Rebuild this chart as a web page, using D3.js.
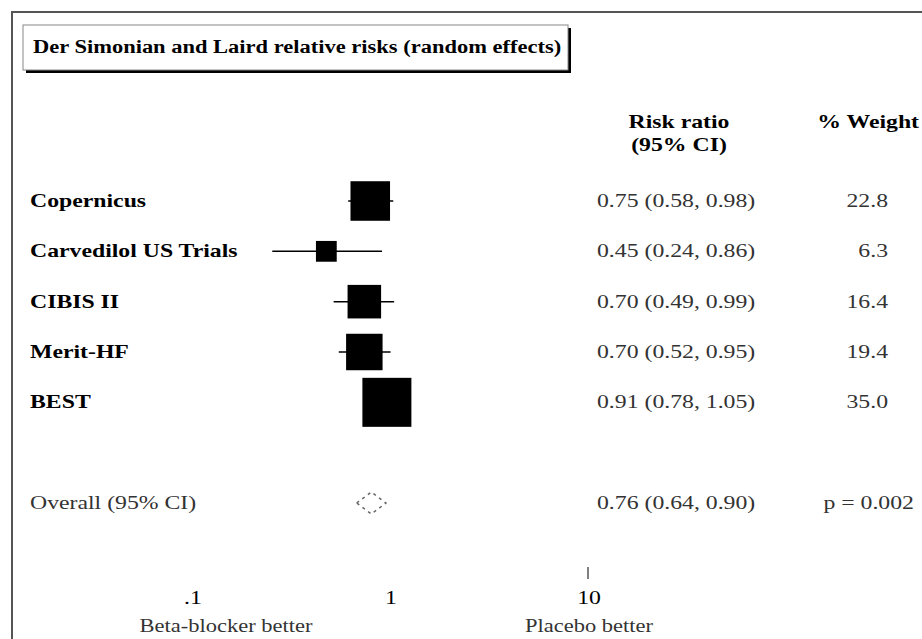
<!DOCTYPE html>
<html>
<head>
<meta charset="utf-8">
<script src="https://cdn.jsdelivr.net/npm/d3@7"></script>
<style>
  body { margin: 0; background: #fff; }
  svg text { font-family: "Liberation Serif", "Times New Roman", serif; fill: #000; }
</style>
</head>
<body>
<div id="chart"></div>
<script>
// study data
var studies = ["Copernicus", "Carvedilol US Trials", "CIBIS II", "Merit-HF", "BEST"]
var rr = [0.75, 0.45, 0.70, 0.70, 0.91]
var lower = [0.58, 0.24, 0.49, 0.52, 0.78]
var upper = [0.98, 0.86, 0.99, 0.95, 1.05]
var rrText = ["0.75 (0.58, 0.98)", "0.45 (0.24, 0.86)", "0.70 (0.49, 0.99)", "0.70 (0.52, 0.95)", "0.91 (0.78, 1.05)"]
var weights = [22.8, 6.3, 16.4, 19.4, 35.0]
var weightText = ["22.8", "6.3", "16.4", "19.4", "35.0"]

var overall = {label: "Overall (95% CI)", rr: 0.76, lower: 0.64, upper: 0.90, text: "0.76 (0.64, 0.90)", p: "p = 0.002"}

var tickValues = [0.1, 1, 10]
var tickLabels = [".1", "1", "10"]
var tickMarks = [10]

var W = 922, H = 639
var SX = 1.25  // the original output has horizontally stretched type
var svg = d3.select("#chart").append("svg").attr("width", W).attr("height", H)

// text helper: wide glyphs, anchored at (x, y)
function label(parent, x, y, str, opt){
  opt = opt || {}
  var g = parent.append("g").attr("transform", "translate(" + x + "," + y + ") scale(" + SX + ",1)")
  return g.append("text")
    .attr("text-anchor", opt.anchor || "start")
    .style("font-size", (opt.size || 19) + "px")
    .style("font-weight", opt.bold ? "bold" : "normal")
    .style("fill", opt.color || (opt.bold ? "#000" : "#333"))
    .text(str)
}

// outer frame (runs off the page to the right/bottom)
svg.append("rect").attr("x", 12).attr("y", 12).attr("width", W).attr("height", H)
  .style("fill", "none").style("stroke", "#555").style("stroke-width", "2px")

// title box with shadow
svg.append("rect").attr("x", 26).attr("y", 28).attr("width", 545).attr("height", 45).style("fill", "#000")
svg.append("rect").attr("x", 23).attr("y", 25).attr("width", 545).attr("height", 45)
  .style("fill", "#fff").style("stroke", "#888").style("stroke-width", "1px")
label(svg, 33, 53, "Der Simonian and Laird relative risks (random effects)", {bold: true, size: 18})

// headers
label(svg, 679, 128, "Risk ratio", {bold: true, anchor: "middle"})
label(svg, 679, 151, "(95% CI)", {bold: true, anchor: "middle"})
label(svg, 919, 128, "% Weight", {bold: true, anchor: "end"})

var x = d3.scaleLog().domain([0.1, 10]).range([197, 593])
var y = d3.scalePoint().domain(d3.range(7)).range([201, 503])
var side = d3.scaleSqrt().domain([0, 35]).range([0, 49])

var rows = studies.map(function(d, i){
  return {name: d, rr: rr[i], lo: lower[i], hi: upper[i], text: rrText[i], w: weights[i], wt: weightText[i], i: i}
})

var row = svg.selectAll(".row").data(rows).enter().append("g").attr("class", "row")

row.append("line")
  .attr("x1", function(d){ return x(d.lo) })
  .attr("x2", function(d){ return x(d.hi) })
  .attr("y1", function(d){ return y(d.i) })
  .attr("y2", function(d){ return y(d.i) })
  .style("stroke", "#000").style("stroke-width", "1.5px")

row.append("rect")
  .attr("x", function(d){ return x(d.rr) - side(d.w) / 2 })
  .attr("y", function(d){ return y(d.i) - side(d.w) / 2 })
  .attr("width", function(d){ return side(d.w) })
  .attr("height", function(d){ return side(d.w) })
  .style("fill", "#000")

row.each(function(d){
  var g = d3.select(this), ty = y(d.i) + 6
  label(g, 30, ty, d.name, {bold: true})
  label(g, 597, ty, d.text)
  label(g, 888, ty, d.wt, {anchor: "end"})
})

// overall row
var oy = y(6)
label(svg, 30, oy + 6, overall.label)
svg.append("path")
  .attr("d", "M" + x(overall.lower) + "," + oy + "L" + x(overall.rr) + "," + (oy - 11) +
             "L" + x(overall.upper) + "," + oy + "L" + x(overall.rr) + "," + (oy + 11) + "Z")
  .style("fill", "none").style("stroke", "#666").style("stroke-width", "1.5px").style("stroke-dasharray", "3,4")
label(svg, 597, oy + 6, overall.text)
label(svg, 914, oy + 6, overall.p, {anchor: "end"})

// axis labels
tickValues.forEach(function(d, i){
  label(svg, x(d) - 4, 604, tickLabels[i], {anchor: "middle", color: "#000"})
})
svg.selectAll(".tickMark").data(tickMarks).enter().append("line")
  .attr("class", "tickMark")
  .attr("x1", function(d){ return x(d) - 5 }).attr("x2", function(d){ return x(d) - 5 })
  .attr("y1", 567).attr("y2", 579)
  .style("stroke", "#000").style("stroke-width", "1px")

label(svg, 226, 632, "Beta-blocker better", {anchor: "middle", size: 18})
label(svg, 589, 632, "Placebo better", {anchor: "middle", size: 18})
</script>
</body>
</html>
